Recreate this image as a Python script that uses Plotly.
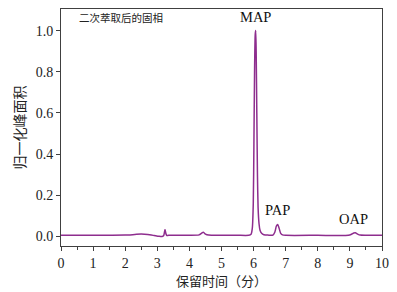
import plotly.graph_objects as go

# Chromatogram: retention time (min) and normalised peak area
time_min = [0.0, 1.0, 2.0, 2.3, 2.5, 2.7, 2.9, 3.05, 3.15, 3.2, 3.24, 3.27, 3.3, 3.35, 3.5,
            4.0, 4.3, 4.38, 4.43, 4.5, 4.6, 5.0, 5.5, 5.85, 5.92, 5.96, 5.99, 6.01, 6.03,
            6.05, 6.065, 6.08, 6.10, 6.12, 6.14, 6.17, 6.20, 6.25, 6.32, 6.45, 6.6, 6.66,
            6.71, 6.75, 6.79, 6.84, 6.9, 7.0, 8.0, 8.95, 9.05, 9.12, 9.17, 9.24, 9.32, 9.5, 10.0]
area_norm = [0.005, 0.005, 0.006, 0.009, 0.011, 0.009, 0.004, 0.0, -0.001, 0.004, 0.033, 0.012,
             0.004, 0.005, 0.005, 0.005, 0.007, 0.015, 0.02, 0.011, 0.006, 0.005, 0.005, 0.005,
             0.01, 0.04, 0.16, 0.45, 0.80, 0.98, 1.0, 0.90, 0.60, 0.30, 0.14, 0.06, 0.03, 0.015,
             0.008, 0.006, 0.006, 0.02, 0.05, 0.058, 0.042, 0.016, 0.007, 0.005, 0.005, 0.005,
             0.01, 0.016, 0.017, 0.011, 0.006, 0.005, 0.005]

x_ticks = [0, 1, 2, 3, 4, 5, 6, 7, 8, 9, 10]
y_ticks = [0.0, 0.2, 0.4, 0.6, 0.8, 1.0]
y_tick_labels = ["0.0", "0.2", "0.4", "0.6", "0.8", "1.0"]

peak_names = ["MAP", "PAP", "OAP"]
peak_x = [6.05, 6.75, 9.1]
peak_y = [1.0, 0.058, 0.017]

serif = "Liberation Serif, Times New Roman, serif"
cjk = "Noto Sans CJK SC, sans-serif"
line_col = "#404040"

fig = go.Figure()
fig.add_trace(go.Scatter(x=time_min, y=area_norm, mode="lines",
                         line=dict(color="#8e2d8e", width=1.5, shape="spline", smoothing=0.6),
                         showlegend=False, hoverinfo="skip"))

for name, px, py in zip(peak_names, peak_x, peak_y):
    fig.add_annotation(x=px, y=py, text=name, showarrow=False, yanchor="bottom",
                       yshift=4, font=dict(family=serif, size=14.5, color="#111"))

fig.add_annotation(x=0.05, y=0.965, xref="paper", yref="paper", text="二次萃取后的固相",
                   showarrow=False, xanchor="left", yanchor="middle",
                   font=dict(family=cjk, size=10.5, color="#222"))

fig.update_layout(
    width=397, height=292,
    margin=dict(l=61, r=15, t=8, b=45),
    plot_bgcolor="white", paper_bgcolor="white",
    xaxis=dict(range=[0, 10], tickvals=x_ticks, ticks="outside", ticklen=4, tickwidth=1,
               tickcolor=line_col, showline=True, linecolor=line_col, linewidth=1, mirror=True,
               showgrid=False, zeroline=False,
               minor=dict(dtick=0.5, ticks="outside", ticklen=2.5, tickcolor=line_col, showgrid=False),
               tickfont=dict(family=serif, size=14, color="#222"),
               title=dict(text="保留时间（分）", font=dict(family=cjk, size=13, color="#222"), standoff=4)),
    yaxis=dict(range=[-0.047, 1.105], tickvals=y_ticks, ticktext=y_tick_labels, ticks="outside",
               ticklen=4, tickwidth=1, tickcolor=line_col, showline=True, linecolor=line_col,
               linewidth=1, mirror=True, showgrid=False, zeroline=False,
               tickfont=dict(family=serif, size=14, color="#222"),
               title=dict(text="归一化峰面积", font=dict(family=cjk, size=14, color="#222"), standoff=6)),
)

fig.write_html("out.html")
